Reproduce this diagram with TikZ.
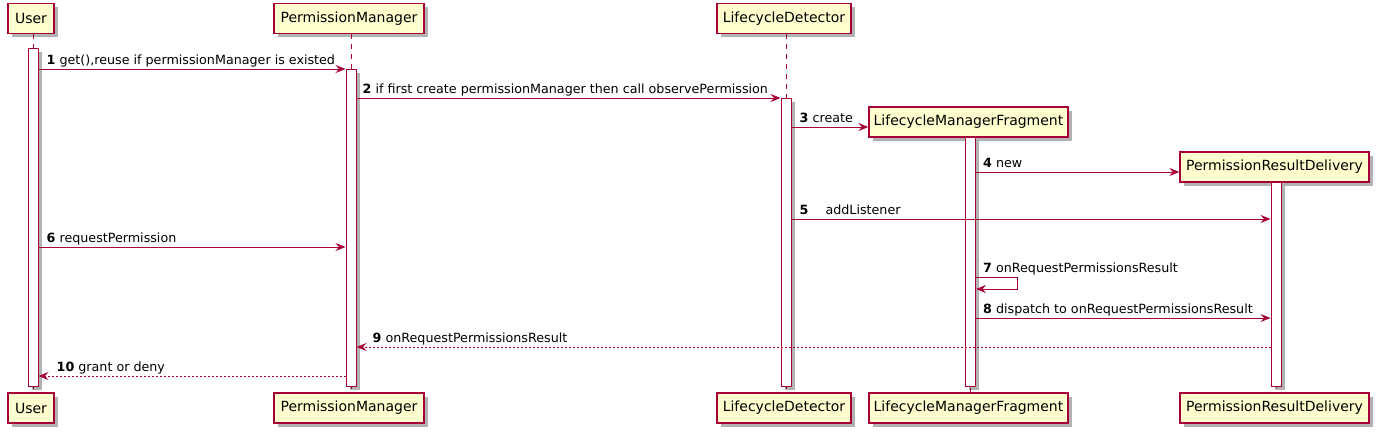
\documentclass[tikz,border=0pt]{standalone}
\usepackage{fontspec}
\setmainfont{DejaVu Sans}
\usetikzlibrary{arrows.meta,shadows,calc}
\definecolor{pu}{HTML}{A80036}
\definecolor{pubox}{HTML}{FEFECE}
\begin{document}
\begin{tikzpicture}[x=1pt,y=-1pt,
  shad/.style={drop shadow={shadow xshift=3.5pt, shadow yshift=-3.5pt, fill=black, opacity=0.3}},
  part/.style={draw=pu, fill=pubox, line width=1.3pt, minimum height=30pt, inner sep=0pt,
    font=\fontsize{14}{16}\selectfont, shad},
  act/.style={draw=pu, fill=white, line width=1pt, minimum width=10pt, inner sep=0pt, shad},
  life/.style={draw=pu, line width=1pt, dash pattern=on 5pt off 5pt},
  msg/.style={draw=pu, line width=1pt, -{Stealth[length=10pt,width=8pt,inset=3.5pt]}},
  ret/.style={msg, dash pattern=on 2pt off 2pt},
  lbl/.style={anchor=base west, inner sep=0pt, font=\fontsize{12.7}{15}\selectfont}
]
\useasboundingbox (0,0) rectangle (1378,434);

% participant boxes
\node[part, minimum width=46pt]  (uT)   at (31,18.5)    {User};
\node[part, minimum width=150pt] (pmT)  at (349,18.5)   {PermissionManager};
\node[part, minimum width=134pt] (ldT)  at (784,18.5)   {LifecycleDetector};
\node[part, minimum width=199pt] (lmfT) at (968.5,122)  {LifecycleManagerFragment};
\node[part, minimum width=189pt] (prdT) at (1274.5,167) {PermissionResultDelivery};

\node[part, minimum width=46pt]  (uB)   at (31,408)     {User};
\node[part, minimum width=150pt] (pmB)  at (349,408)    {PermissionManager};
\node[part, minimum width=134pt] (ldB)  at (784,408)    {LifecycleDetector};
\node[part, minimum width=199pt] (lmfB) at (968.5,408)  {LifecycleManagerFragment};
\node[part, minimum width=189pt] (prdB) at (1274.5,408) {PermissionResultDelivery};

% lifeline x positions
\coordinate (uL)   at (33,0);
\coordinate (pmL)  at (351,0);
\coordinate (ldL)  at (786,0);
\coordinate (lmfL) at (970.5,0);
\coordinate (prdL) at (1276,0);

\draw[life] (uL |- uT.south) -- (uL |- uB.north);
\draw[life] (pmL |- pmT.south) -- (pmL |- pmB.north);
\draw[life] (ldL |- ldT.south) -- (ldL |- ldB.north);
\draw[life] (lmfL |- lmfT.south) -- (lmfL |- lmfB.north);
\draw[life] (prdL |- prdT.south) -- (prdL |- prdB.north);

% activations
\node[act, minimum height=338pt] (uA)   at (33,217)      {};
\node[act, minimum height=317pt] (pmA)  at (351,227.5)   {};
\node[act, minimum height=288pt] (ldA)  at (786,242)     {};
\node[act, minimum height=249pt] (lmfA) at (970.5,261.5) {};
\node[act, minimum height=204pt] (prdA) at (1276,284)    {};

% message levels
\coordinate (y1) at (0,69);
\coordinate (y2) at (0,98);
\coordinate (y3) at (0,127);
\coordinate (y4) at (0,172);
\coordinate (y5) at (0,219);
\coordinate (y6) at (0,247);
\coordinate (y7) at (0,277);
\coordinate (y7b) at (0,289);
\coordinate (y8) at (0,318);
\coordinate (y9) at (0,347);
\coordinate (y10) at (0,376);

% messages
\draw[msg] (uA.east |- y1) -- (pmA.west |- y1);
\node[lbl] (l1) at ($(uA.east |- y1)+(8,-5)$) {\textbf{1} get(),reuse if permissionManager is existed};

\draw[msg] (pmA.east |- y2) -- (ldA.west |- y2);
\node[lbl] (l2) at ($(pmA.east |- y2)+(6,-5)$) {\textbf{2} if first create permissionManager then call observePermission};

\draw[msg] (ldA.east |- y3) -- (lmfT.west |- y3);
\node[lbl] (l3) at ($(ldA.east |- y3)+(8,-5)$) {\textbf{3} create};

\draw[msg] (lmfA.east |- y4) -- (prdT.west |- y4);
\node[lbl] (l4) at ($(lmfA.east |- y4)+(7,-5)$) {\textbf{4} new};

\draw[msg] (ldA.east |- y5) -- (prdA.west |- y5);
\node[lbl] (l5) at ($(ldA.east |- y5)+(8,-5)$) {\textbf{5}\hspace{17pt}addListener};

\draw[msg] (uA.east |- y6) -- (pmA.west |- y6);
\node[lbl] (l6) at ($(uA.east |- y6)+(8,-5)$) {\textbf{6} requestPermission};

\draw[msg] (lmfA.east |- y7) -- ++(41,0) -- ++(0,12) -- (lmfA.east |- y7b);
\node[lbl] (l7) at ($(lmfA.east |- y7)+(7,-5)$) {\textbf{7} onRequestPermissionsResult};

\draw[msg] (lmfA.east |- y8) -- (prdA.west |- y8);
\node[lbl] (l8) at ($(lmfA.east |- y8)+(7,-5)$) {\textbf{8} dispatch to onRequestPermissionsResult};

\draw[ret] (prdA.west |- y9) -- (pmA.east |- y9);
\node[lbl] (l9) at ($(pmA.east |- y9)+(16,-5)$) {\textbf{9} onRequestPermissionsResult};

\draw[ret] (pmA.west |- y10) -- (uA.east |- y10);
\node[lbl] (l10) at ($(uA.east |- y10)+(18,-5)$) {\textbf{10} grant or deny};
\end{tikzpicture}
\end{document}
